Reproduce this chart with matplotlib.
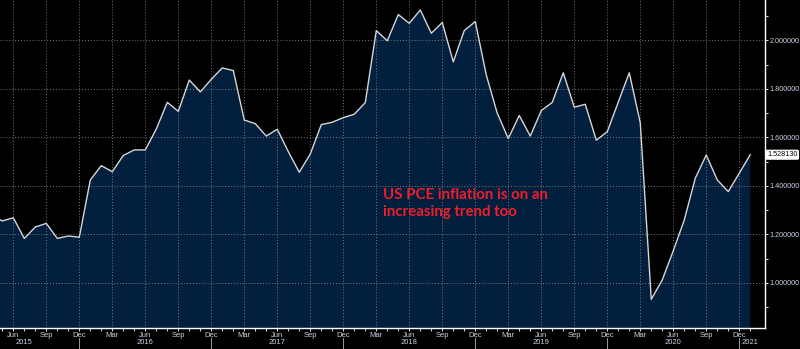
#!/usr/bin/env python3
"""
US core PCE inflation (YoY %) area chart, Bloomberg terminal style.
"""

import matplotlib
matplotlib.use('Agg')
import matplotlib.pyplot as plt
from matplotlib.ticker import FixedLocator, FormatStrFormatter
import numpy as np
import pandas as pd

# Monthly values, Apr 2015 .. Jan 2021
months = pd.period_range('2015-04', '2021-01', freq='M')
pce = [
    1.280, 1.255, 1.268, 1.183, 1.230, 1.245, 1.183, 1.193, 1.188,                   # 2015
    1.424, 1.483, 1.458, 1.525, 1.548, 1.548, 1.634, 1.744, 1.707, 1.836, 1.787, 1.839,  # 2016
    1.886, 1.875, 1.671, 1.656, 1.605, 1.633, 1.541, 1.456, 1.531, 1.652, 1.662, 1.681,  # 2017
    1.695, 1.743, 2.040, 1.998, 2.106, 2.070, 2.125, 2.029, 2.073, 1.911, 2.040, 2.077,  # 2018
    1.857, 1.699, 1.595, 1.690, 1.605, 1.710, 1.744, 1.866, 1.724, 1.736, 1.588, 1.623,  # 2019
    1.745, 1.866, 1.660, 0.932, 1.012, 1.132, 1.259, 1.431, 1.527, 1.424, 1.376, 1.452,  # 2020
    1.52813,                                                                          # 2021
]
year_labels = ['2015', '2016', '2017', '2018', '2019', '2020', '2021']
year_label_months = ['2015-07', '2016-06', '2017-06', '2018-06', '2019-06', '2020-06', '2021-01']
y_major = [1.0, 1.2, 1.4, 1.6, 1.8, 2.0]
note = "US PCE inflation is on an\nincreasing trend too"

BG = '#000000'
FILL = '#021f3d'
LINE = '#d6d6d6'
TXT = '#c9d5e4'
RED = '#f01e2c'

x = np.arange(len(months))
start = months[0]


def idx(p):
    return (pd.Period(p, freq='M') - start).n


fig = plt.figure(figsize=(8, 3.49), dpi=100, facecolor=BG)
ax = fig.add_axes([0.0, 20.7 / 349, 765 / 800, 1 - 20.7 / 349])
ax.set_facecolor(BG)

ax.fill_between(x, pce, 0, color=FILL, lw=0, zorder=1)
ax.plot(x, pce, color=LINE, lw=1.0, zorder=3)

ax.set_xlim(0.79, 70.34)
ax.set_ylim(0.8124, 2.166)

# x ticks: quarterly labels, monthly minor ticks
q_idx = [i for i, m in enumerate(months) if m.month in (3, 6, 9, 12)]
ax.xaxis.set_major_locator(FixedLocator(q_idx))
ax.set_xticklabels([months[i].strftime('%b') for i in q_idx])
ax.xaxis.set_minor_locator(FixedLocator(list(x)))
ax.tick_params(axis='x', which='both', colors='white', length=2, width=0.6,
               labelcolor=TXT, labelsize=5.5, pad=0.8)

# y ticks on the right
ax.yaxis.tick_right()
ax.yaxis.set_major_locator(FixedLocator(y_major))
ax.yaxis.set_minor_locator(FixedLocator([0.9, 1.1, 1.3, 1.5, 1.7, 1.9, 2.1]))
ax.yaxis.set_major_formatter(FormatStrFormatter('%.6f'))
ax.tick_params(axis='y', which='both', colors='white', length=2.5, width=0.6,
               labelcolor=TXT, labelsize=5.2, pad=0.8)
for lab in ax.get_xticklabels() + ax.get_yticklabels():
    lab.set_family('Liberation Sans')

ax.set_axisbelow(False)
ax.grid(True, which='major', color='#8c8c8c', lw=0.7, ls=(0, (1, 2)), alpha=0.85)

for s in ('left', 'top'):
    ax.spines[s].set_visible(False)
for s in ('right', 'bottom'):
    ax.spines[s].set_color('white')
    ax.spines[s].set_linewidth(1.0)

# year labels and separators
xt = ax.get_xaxis_transform()
for lab, m in zip(year_labels, year_label_months):
    ax.text(idx(m), -0.044, lab, transform=xt, ha='center', va='center',
            fontsize=5.5, color=TXT, family='Liberation Sans', clip_on=False)
for i, m in enumerate(months):
    if m.month == 12:
        ax.plot([i, i], [-0.03, -0.07], transform=xt, color='#9a9a9a',
                lw=0.7, clip_on=False)

# last value tag
ax.annotate(f'{pce[-1]:.6f}', xy=(1.0, pce[-1]), xycoords=('axes fraction', 'data'),
            xytext=(1.5, 0), textcoords='offset points', ha='left', va='center',
            fontsize=5.2, color='black', family='Liberation Sans',
            bbox=dict(boxstyle='round,pad=0.12', fc='white', ec='white'))

ax.text(0.5007, 0.428, note, transform=ax.transAxes, ha='left', va='top',
        fontsize=10.8, color=RED, family='Lato', fontweight='bold', linespacing=1.3)

plt.savefig('out.png', dpi=100, facecolor=BG)
plt.close()
